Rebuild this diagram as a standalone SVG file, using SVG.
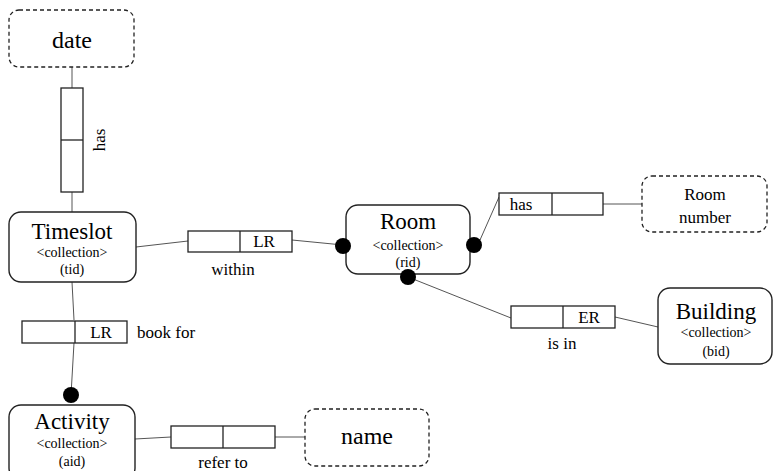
<svg xmlns="http://www.w3.org/2000/svg" width="775" height="471" viewBox="0 0 775 471">
<style>
text{fill:#000;text-anchor:middle;dominant-baseline:central}
.f{font-family:'Liberation Serif',serif}
.ent{fill:#fff;stroke:#222;stroke-width:1.4}
.att{fill:#fff;stroke:#222;stroke-width:1.3;stroke-dasharray:4 3}
.rel{fill:#fff;stroke:#222;stroke-width:1.3}
.ln{fill:none;stroke:#555;stroke-width:1}
.dot{fill:#000}
</style>
<g id="connectors">
<line class="ln" x1="72" y1="67" x2="72" y2="88"/>
<line class="ln" x1="72" y1="192" x2="72" y2="212"/>
<line class="ln" x1="136" y1="247" x2="188" y2="241"/>
<line class="ln" x1="292" y1="240" x2="343" y2="245"/>
<line class="ln" x1="480" y1="240" x2="499" y2="197"/>
<line class="ln" x1="603" y1="204" x2="642" y2="204"/>
<line class="ln" x1="408" y1="277" x2="511" y2="318"/>
<line class="ln" x1="615" y1="317" x2="658" y2="327"/>
<line class="ln" x1="72" y1="282" x2="74" y2="320"/>
<line class="ln" x1="74" y1="343" x2="71" y2="395"/>
<line class="ln" x1="135" y1="439" x2="171" y2="437"/>
<line class="ln" x1="275" y1="437" x2="305" y2="437"/>
</g>
<g id="date">
<rect class="att" x="9" y="10" width="125" height="57" rx="10"/>
<text font-family="Liberation Serif" font-size="24" x="72" y="40">date</text>
</g>
<g id="rel-has-date">
<rect class="rel" x="61" y="88" width="22" height="104"/>
<line class="rel" x1="61" y1="140" x2="83" y2="140"/>
<text font-family="Liberation Serif" font-size="17" transform="translate(99 140) rotate(-90)">has</text>
</g>
<g id="timeslot">
<rect class="ent" x="9" y="212" width="127" height="70" rx="12"/>
<text font-family="Liberation Serif" font-size="23" x="72" y="231">Timeslot</text>
<text font-family="Liberation Serif" font-size="14" x="72" y="252">&lt;collection&gt;</text>
<text font-family="Liberation Serif" font-size="14" x="72" y="269">(tid)</text>
</g>
<g id="rel-within">
<rect class="rel" x="188" y="231" width="104" height="21"/>
<line class="rel" x1="240" y1="231" x2="240" y2="252"/>
<text font-family="Liberation Serif" font-size="17" x="264" y="241">LR</text>
<text font-family="Liberation Serif" font-size="17" x="233" y="269">within</text>
</g>
<g id="room">
<rect class="ent" x="346" y="205" width="124" height="69" rx="12"/>
<text font-family="Liberation Serif" font-size="23" x="408" y="221">Room</text>
<text font-family="Liberation Serif" font-size="14" x="408" y="245">&lt;collection&gt;</text>
<text font-family="Liberation Serif" font-size="14" x="408" y="262">(rid)</text>
<circle class="dot" cx="343" cy="246" r="8"/>
<circle class="dot" cx="474" cy="245" r="8"/>
<circle class="dot" cx="408" cy="277" r="8"/>
</g>
<g id="rel-has-room">
<rect class="rel" x="499" y="193" width="104" height="22"/>
<line class="rel" x1="552" y1="193" x2="552" y2="215"/>
<text font-family="Liberation Serif" font-size="17" x="521" y="204">has</text>
</g>
<g id="roomnumber">
<rect class="att" x="642" y="176" width="125" height="56" rx="10"/>
<text font-family="Liberation Serif" font-size="17" x="705" y="194">Room</text>
<text font-family="Liberation Serif" font-size="17" x="705" y="217">number</text>
</g>
<g id="rel-isin">
<rect class="rel" x="511" y="306" width="104" height="22"/>
<line class="rel" x1="563" y1="306" x2="563" y2="328"/>
<text font-family="Liberation Serif" font-size="17" x="589" y="317">ER</text>
<text font-family="Liberation Serif" font-size="17" x="562" y="343">is in</text>
</g>
<g id="building">
<rect class="ent" x="658" y="288" width="114" height="76" rx="12"/>
<text font-family="Liberation Serif" font-size="23" x="716" y="311">Building</text>
<text font-family="Liberation Serif" font-size="14" x="716" y="332">&lt;collection&gt;</text>
<text font-family="Liberation Serif" font-size="14" x="716" y="351">(bid)</text>
</g>
<g id="rel-bookfor">
<rect class="rel" x="22" y="321" width="105" height="22"/>
<line class="rel" x1="75" y1="321" x2="75" y2="343"/>
<text font-family="Liberation Serif" font-size="17" x="101" y="332">LR</text>
<text font-family="Liberation Serif" font-size="17" x="137" y="332" text-anchor="start" style="text-anchor:start">book for</text>
</g>
<g id="activity">
<circle class="dot" cx="71" cy="395" r="8"/>
<rect class="ent" x="9" y="405" width="126" height="75" rx="12"/>
<text font-family="Liberation Serif" font-size="23" x="72" y="421">Activity</text>
<text font-family="Liberation Serif" font-size="14" x="72" y="443">&lt;collection&gt;</text>
<text font-family="Liberation Serif" font-size="14" x="72" y="461">(aid)</text>
</g>
<g id="rel-referto">
<rect class="rel" x="171" y="426" width="104" height="22"/>
<line class="rel" x1="223" y1="426" x2="223" y2="448"/>
<text font-family="Liberation Serif" font-size="17" x="223" y="462">refer to</text>
</g>
<g id="name">
<rect class="att" x="305" y="409" width="124" height="57" rx="10"/>
<text font-family="Liberation Serif" font-size="24" x="367" y="436">name</text>
</g>
</svg>
